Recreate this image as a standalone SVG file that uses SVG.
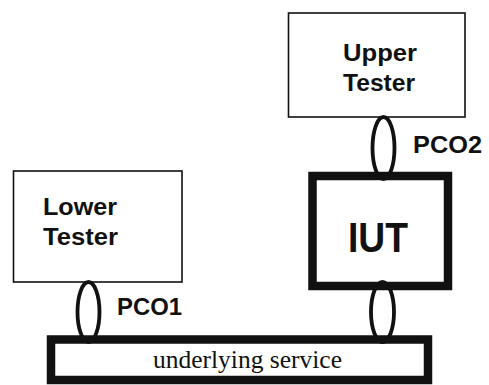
<svg xmlns="http://www.w3.org/2000/svg" width="489" height="385" viewBox="0 0 489 385">
<style>
.box{fill:#fff;stroke:#111;stroke-width:1.6}
.thick{fill:#fff;stroke:#111;stroke-width:8.5}
.pco{fill:none;stroke:#111;stroke-width:3.8}
.lbl{font-family:"Liberation Sans",Arial,sans-serif;font-weight:bold;fill:#111}
.svc{font-family:"Liberation Serif","Times New Roman",serif;fill:#111}
</style>
<rect width="489" height="385" fill="#fff"/>
<g id="upper-tester">
<rect class="box" x="288.5" y="13" width="176.5" height="104"/>
<text class="lbl" x="343" y="61" font-size="23" textLength="74" lengthAdjust="spacingAndGlyphs">Upper</text>
<text class="lbl" x="343" y="91" font-size="23" textLength="72" lengthAdjust="spacingAndGlyphs">Tester</text>
</g>
<g id="lower-tester">
<rect class="box" x="13.5" y="171" width="168.5" height="111"/>
<text class="lbl" x="43" y="215" font-size="23" textLength="74" lengthAdjust="spacingAndGlyphs">Lower</text>
<text class="lbl" x="43" y="245" font-size="23" textLength="75" lengthAdjust="spacingAndGlyphs">Tester</text>
</g>
<g id="iut">
<rect class="thick" x="312.5" y="176" width="135.5" height="110"/>
<text class="lbl" x="348" y="252" font-size="42" textLength="60" lengthAdjust="spacingAndGlyphs">IUT</text>
</g>
<g id="underlying-service">
<rect class="thick" x="51" y="339.5" width="377" height="40.5"/>
<text class="svc" x="153" y="368" font-size="25" textLength="189" lengthAdjust="spacingAndGlyphs">underlying service</text>
</g>
<g id="connectors">
<ellipse class="pco" cx="88.5" cy="312" rx="11" ry="30"/>
<ellipse class="pco" cx="383.5" cy="148" rx="11" ry="31"/>
<ellipse class="pco" cx="382.5" cy="312" rx="11.5" ry="30"/>
</g>
<g id="labels">
<text class="lbl" x="117" y="315" font-size="23" textLength="65" lengthAdjust="spacingAndGlyphs">PCO1</text>
<text class="lbl" x="413" y="153" font-size="23" textLength="69" lengthAdjust="spacingAndGlyphs">PCO2</text>
</g>
</svg>
